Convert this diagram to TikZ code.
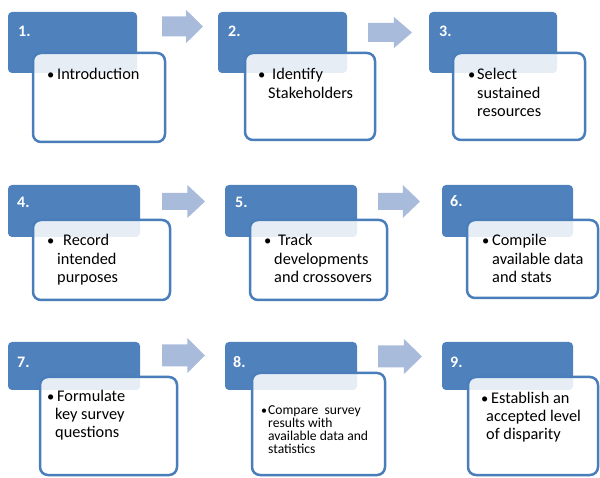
\documentclass[tikz,border=0pt]{standalone}
\usepackage{fontspec}
\setmainfont{Carlito}
\definecolor{hdr}{HTML}{4F81BD}
\definecolor{brd}{HTML}{4A7EBB}
\definecolor{arr}{HTML}{A9BBDA}
\newcommand{\flowarr}[5]{% x0 y0 x1 y1 shaft-half
  \pgfmathsetmacro{\ym}{(#2+#4)/2}
  \pgfmathsetmacro{\xs}{#1+0.59*(#3-#1)}
  \fill[flow] (#1,\ym-#5) -- (\xs,\ym-#5) -- (\xs,#2) -- (#3,\ym) -- (\xs,#4) -- (\xs,\ym+#5) -- (#1,\ym+#5) -- cycle;}
\newcommand{\linesbox}[1]{\parbox[t]{140pt}{\raggedright\parindent=0pt #1}}
\begin{document}
\begin{tikzpicture}[x=1pt,y=-1pt,
 hdrbox/.style={fill=hdr, rounded corners=4pt},
 txtbox/.style={draw=brd, line width=2.5pt, fill=white, fill opacity=0.86, draw opacity=1, rounded corners=8pt},
 numlbl/.style={anchor=base west, inner sep=0pt, text=white, font=\fontsize{16}{18}\selectfont\bfseries},
 bul/.style={anchor=base west, inner sep=0pt, font=\fontsize{14.5}{18}\selectfont},
 body/.style={anchor=base west, inner sep=0pt, font=\fontsize{16.3}{18.3}\selectfont},
 bulsmall/.style={anchor=base west, inner sep=0pt, font=\fontsize{12}{13.3}\selectfont},
 small/.style={anchor=base west, inner sep=0pt, font=\fontsize{13.6}{13.3}\selectfont},
 flow/.style={fill=arr}]
\useasboundingbox (0,0) rectangle (600,478);

% arrows
\flowarr{162}{10}{203}{43}{10}
\flowarr{368}{17}{412}{48}{9.5}
\flowarr{162}{185}{205}{218}{8.5}
\flowarr{378}{185}{420}{218}{8.5}
\flowarr{162}{338}{205}{373}{11}
\flowarr{378}{339}{422}{374}{11}

% group 1
\fill[hdrbox] (8,12) rectangle (137,73);
\node[numlbl] (n1) at (18,37) {1.};
\draw[txtbox] (33,53) rectangle (165,142);
\node[bul] (b1) at (47,80) {•};
\node[body] (t1) at (57,80) {\linesbox{Introduction}};

% group 2
\fill[hdrbox] (218,12) rectangle (347,73);
\node[numlbl] (n2) at (228,37) {2.};
\draw[txtbox] (245,53) rectangle (375,140);
\node[bul] (b2) at (258,80) {•};
\node[body] (t2) at (268,80) {\linesbox{\hspace*{4pt}Identify\\Stakeholders}};

% group 3
\fill[hdrbox] (429,12) rectangle (557,73);
\node[numlbl] (n3) at (439,37) {3.};
\draw[txtbox] (453,53) rectangle (585,140);
\node[bul] (b3) at (468,80) {•};
\node[body] (t3) at (477,80) {\linesbox{Select\\sustained\\resources}};

% group 4
\fill[hdrbox] (8,185) rectangle (140,237);
\node[numlbl] (n4) at (17,208) {4.};
\draw[txtbox] (33,220) rectangle (170,300);
\node[bul] (b4) at (47,246) {•};
\node[body] (t4) at (57,246) {\linesbox{\hspace*{6pt}Record\\intended\\purposes}};

% group 5
\fill[hdrbox] (225,185) rectangle (357,237);
\node[numlbl] (n5) at (235,208) {5.};
\draw[txtbox] (250,220) rectangle (387,300);
\node[bul] (b5) at (264,246) {•};
\node[body] (t5) at (274,246) {\linesbox{\hspace*{4pt}Track\\developments\\and crossovers}};

% group 6
\fill[hdrbox] (442,185) rectangle (573,237);
\node[numlbl] (n6) at (450,207) {6.};
\draw[txtbox] (467,220) rectangle (598,298);
\node[bul] (b6) at (482,246) {•};
\node[body] (t6) at (492,246) {\linesbox{Compile\\available data\\and stats}};

% group 7
\fill[hdrbox] (8,342) rectangle (140,390);
\node[numlbl] (n7) at (17,367) {7.};
\draw[txtbox] (40,377) rectangle (177,475);
\node[bul] (b7) at (47,401) {•};
\node[body] (t7) at (55,401) {\linesbox{\hspace*{2pt}Formulate\\key survey\\questions}};

% group 8
\fill[hdrbox] (225,342) rectangle (357,390);
\node[numlbl] (n8) at (233,367) {8.};
\draw[txtbox] (252,373) rectangle (385,475);
\node[bulsmall] (b8) at (261,414) {•};
\node[small] (t8) at (268,414) {\linesbox{Compare\ \ survey\\results with\\available data and\\statistics}};

% group 9
\fill[hdrbox] (442,342) rectangle (573,390);
\node[numlbl] (n9) at (450,367) {9.};
\draw[txtbox] (468,377) rectangle (598,475);
\node[bul] (b9) at (481,403) {•};
\node[body] (t9) at (486,403) {\linesbox{\hspace*{5pt}Establish an\\accepted level\\of disparity}};
\end{tikzpicture}
\end{document}
